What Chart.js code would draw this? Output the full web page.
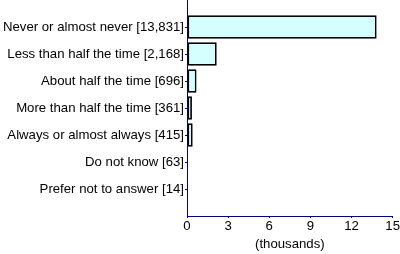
<!DOCTYPE html>
<html>
<head>
<meta charset="utf-8">
<script src="https://cdn.jsdelivr.net/npm/chart.js@4"></script>
<style>
  html, body { margin: 0; padding: 0; background: #fff; overflow: hidden; }
  #wrap { width: 400px; height: 254px; position: relative; }
</style>
</head>
<body>
<div id="wrap"><canvas id="chart"></canvas></div>
<script>
(function(){
  'use strict';

  // answers and their counts (people)
  const categories = [
    'Never or almost never',
    'Less than half the time',
    'About half the time',
    'More than half the time',
    'Always or almost always',
    'Do not know',
    'Prefer not to answer'
  ];
  const counts = [13831, 2168, 696, 361, 415, 63, 14];
  const xTicks = [0, 3, 6, 9, 12, 15];

  const fmt = n => n.toLocaleString('en-US');
  const tickLabels = categories.map((c, i) => `${c} [${fmt(counts[i])}]`);

  const navy = '#000080';
  const font = { family: '"Liberation Sans", Arial, sans-serif', size: 13.2 };

  const ctx = document.getElementById('chart').getContext('2d');
  new Chart(ctx, {
    type: 'bar',
    data: {
      datasets: [{
        data: counts.map((c, i) => ({ x: c / 1000, y: i + 1 })),
        backgroundColor: '#d5ffff',
        borderColor: '#000000',
        borderWidth: 1.8,
        borderSkipped: false,
        barPercentage: 0.87,
        categoryPercentage: 1
      }]
    },
    options: {
      indexAxis: 'y',
      responsive: true,
      maintainAspectRatio: false,
      animation: false,
      layout: { padding: 0 },
      plugins: { legend: { display: false }, tooltip: { enabled: false } },
      scales: {
        y: {
          type: 'linear',
          reverse: true,
          offset: false,
          min: 0,
          max: 8,
          afterBuildTicks: s => { s.ticks = categories.map((c, i) => ({ value: i + 1 })); },
          afterFit: s => { s.width = 187; s.paddingTop = 0; s.paddingBottom = 0; },
          ticks: {
            color: '#000',
            font: font,
            padding: 1,
            callback: v => tickLabels[v - 1] || ''
          },
          grid: { display: true, offset: false, drawOnChartArea: false, color: navy, tickLength: 2 },
          border: { color: navy, width: 1 }
        },
        x: {
          type: 'linear',
          min: 0,
          max: 15,
          afterBuildTicks: s => { s.ticks = xTicks.map(v => ({ value: v })); },
          afterFit: s => { s.height = 38; },
          ticks: { color: '#000', font: font, padding: 0, maxRotation: 0 },
          grid: { display: true, drawOnChartArea: false, color: navy, tickLength: 2 },
          border: { color: navy, width: 1 },
          title: { display: true, text: '(thousands)', color: '#000', font: font, padding: { top: 0, bottom: 2 } }
        }
      }
    }
  });
})();
</script>
</body>
</html>
